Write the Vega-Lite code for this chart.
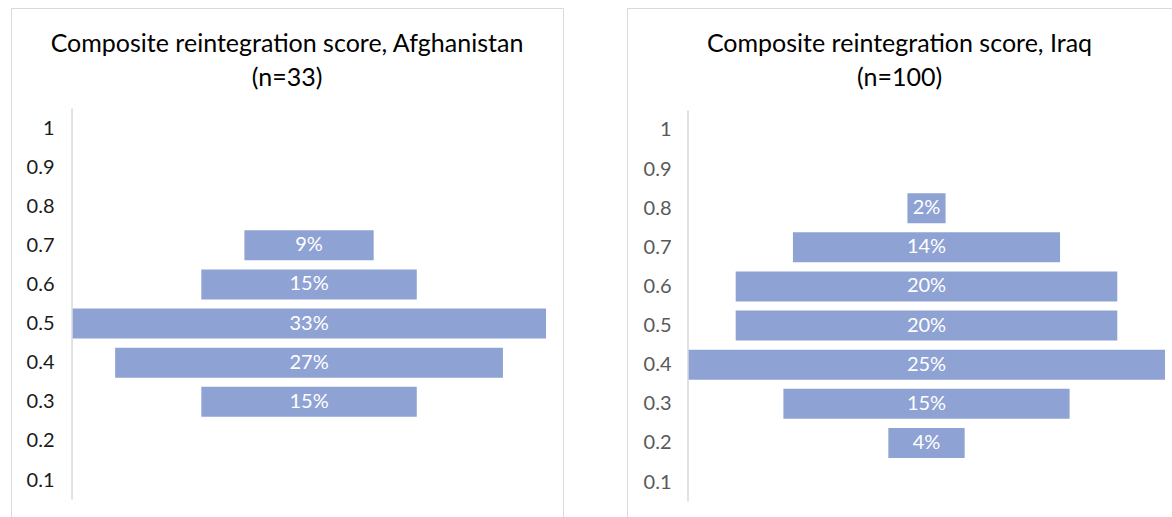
{
  "$schema": "https://vega.github.io/schema/vega-lite/v6.json",
  "padding": {"left": 10, "top": 7, "right": 0, "bottom": 0},
  "spacing": 62,
  "config": {
    "font": "Lato",
    "view": {"stroke": "#d9d9d9", "strokeWidth": 1},
    "title": {"font": "Lato", "fontSize": 25, "fontWeight": "normal", "color": "#000000", "lineHeight": 34, "anchor": "middle", "offset": -83}
  },
  "hconcat": [
    {
      "width": 552,
      "height": 510,
      "title": {"text": ["Composite reintegration score, Afghanistan", "(n=33)"]},
      "data": {"values": [
        {"score": 0.3, "share": 0.15},
        {"score": 0.4, "share": 0.27},
        {"score": 0.5, "share": 0.33},
        {"score": 0.6, "share": 0.15},
        {"score": 0.7, "share": 0.09}
      ]},
      "resolve": {"axis": {"y": "independent"}},
      "layer": [
        {
          "mark": {"type": "bar", "orient": "horizontal", "size": 30, "color": "#8FA2D4"},
          "encoding": {
            "y": {
              "field": "score", "type": "quantitative",
              "scale": {"domain": [0.0158, 1.294], "nice": false, "zero": false},
              "axis": {"values": [0.1, 0.2, 0.3, 0.4, 0.5, 0.6, 0.7, 0.8, 0.9, 1], "format": "~g", "domain": false, "ticks": false, "tickSize": 0, "grid": false, "labelPadding": -43, "labelAlign": "right", "labelFont": "Lato", "labelFontSize": 20, "labelColor": "#1a1a1a", "labelOverlap": false, "labelFlush": false, "title": null, "zindex": 1}
            },
            "x": {"field": "share", "type": "quantitative", "stack": "center", "scale": {"domain": [-0.0425, 0.3418], "nice": false, "zero": false}, "axis": null}
          }
        },
        {
          "transform": [{"aggregate": [{"op": "max", "field": "share", "as": "widest"}]}],
          "mark": {"type": "rule", "color": "#d9d9d9", "strokeWidth": 1.5},
          "encoding": {
            "x": {"datum": 0, "type": "quantitative", "axis": null},
            "y": {"datum": 0.05, "type": "quantitative", "axis": null},
            "y2": {"datum": 1.05}
          }
        },
        {
          "mark": {"type": "text", "color": "#ffffff", "font": "Lato", "fontSize": 20},
          "encoding": {
            "y": {"field": "score", "type": "quantitative", "axis": null},
            "x": {"datum": 0.165, "type": "quantitative", "axis": null},
            "text": {"field": "share", "type": "quantitative", "format": ".0%"}
          }
        }
      ]
    },
    {
      "width": 545,
      "height": 510,
      "title": {"text": ["Composite reintegration score, Iraq", "(n=100)"]},
      "data": {"values": [
        {"score": 0.2, "share": 0.04},
        {"score": 0.3, "share": 0.15},
        {"score": 0.4, "share": 0.25},
        {"score": 0.5, "share": 0.20},
        {"score": 0.6, "share": 0.20},
        {"score": 0.7, "share": 0.14},
        {"score": 0.8, "share": 0.02}
      ]},
      "resolve": {"axis": {"y": "independent"}},
      "layer": [
        {
          "mark": {"type": "bar", "orient": "horizontal", "size": 30, "color": "#8FA2D4"},
          "encoding": {
            "y": {
              "field": "score", "type": "quantitative",
              "scale": {"domain": [0.0208, 1.299], "nice": false, "zero": false},
              "axis": {"values": [0.1, 0.2, 0.3, 0.4, 0.5, 0.6, 0.7, 0.8, 0.9, 1], "format": "~g", "domain": false, "ticks": false, "tickSize": 0, "grid": false, "labelPadding": -44, "labelAlign": "right", "labelFont": "Lato", "labelFontSize": 20, "labelColor": "#595959", "labelOverlap": false, "labelFlush": false, "title": null, "zindex": 1}
            },
            "x": {"field": "share", "type": "quantitative", "stack": "center", "scale": {"domain": [-0.03197, 0.25367], "nice": false, "zero": false}, "axis": null}
          }
        },
        {
          "transform": [{"aggregate": [{"op": "max", "field": "share", "as": "widest"}]}],
          "mark": {"type": "rule", "color": "#d9d9d9", "strokeWidth": 1.5},
          "encoding": {
            "x": {"datum": 0, "type": "quantitative", "axis": null},
            "y": {"datum": 0.05, "type": "quantitative", "axis": null},
            "y2": {"datum": 1.05}
          }
        },
        {
          "mark": {"type": "text", "color": "#ffffff", "font": "Lato", "fontSize": 20},
          "encoding": {
            "y": {"field": "score", "type": "quantitative", "axis": null},
            "x": {"datum": 0.125, "type": "quantitative", "axis": null},
            "text": {"field": "share", "type": "quantitative", "format": ".0%"}
          }
        }
      ]
    }
  ]
}
